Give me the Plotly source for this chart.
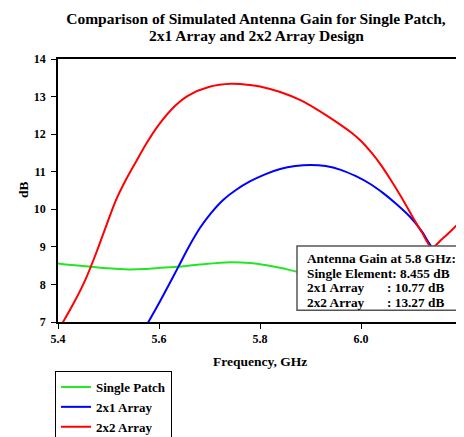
import plotly.graph_objects as go

# ---- data ----
freq_single = [5.40, 5.433, 5.466, 5.50, 5.539, 5.57, 5.598, 5.635, 5.68, 5.741, 5.78, 5.813, 5.845, 5.873, 5.92, 5.98, 6.05, 6.12, 6.20]
gain_single = [8.56, 8.51, 8.47, 8.43, 8.40, 8.41, 8.44, 8.47, 8.53, 8.59, 8.57, 8.51, 8.43, 8.34, 8.29, 8.26, 8.24, 8.23, 8.22]

freq_2x1 = [5.57, 5.579, 5.598, 5.618, 5.638, 5.657, 5.681, 5.703, 5.727, 5.753, 5.78, 5.81, 5.84, 5.87, 5.90, 5.93, 5.96, 5.99, 6.02, 6.044, 6.07, 6.097, 6.12, 6.14, 6.17, 6.20]
gain_2x1 = [6.80, 7.00, 7.45, 7.95, 8.46, 8.95, 9.50, 9.90, 10.25, 10.52, 10.74, 10.93, 11.07, 11.15, 11.18, 11.15, 11.05, 10.88, 10.66, 10.43, 10.14, 9.80, 9.42, 9.00, 8.60, 8.30]

freq_2x2 = [5.40, 5.41, 5.433, 5.455, 5.476, 5.496, 5.515, 5.535, 5.555, 5.575, 5.598, 5.631, 5.657, 5.70, 5.743, 5.78, 5.80, 5.84, 5.879, 5.91, 5.945, 5.98, 6.00, 6.02, 6.04, 6.06, 6.08, 6.10, 6.12, 6.14, 6.16, 6.18, 6.20]
gain_2x2 = [6.78, 7.00, 7.55, 8.15, 8.85, 9.58, 10.25, 10.80, 11.28, 11.75, 12.22, 12.74, 13.02, 13.26, 13.34, 13.31, 13.27, 13.12, 12.91, 12.68, 12.38, 12.05, 11.82, 11.52, 11.17, 10.76, 10.32, 9.85, 9.40, 8.98, 9.20, 9.45, 9.72]

x_ticks = [5.4, 5.6, 5.8, 6.0, 6.2]
x_tick_labels = ["5.4", "5.6", "5.8", "6.0", "6.2"]
y_ticks = [7, 8, 9, 10, 11, 12, 13, 14]

info_lines = ["Antenna Gain at 5.8 GHz:", "Single Element: 8.455 dB", "2x1 Array", "2x2 Array"]
info_values = ["", "", ": 10.77 dB", ": 13.27 dB"]

FONT = "Liberation Serif"


def px_x(p):
    # reference pixel column -> data x (plot spans 58..462 px for 5.4..6.2)
    return 5.4 + (p - 58) / 505.0


def px_y(p):
    # reference pixel row -> data y (14 at 59.3 px, 7 at 321.7 px)
    return 14 - (p - 59.3) / 37.5


def paper_x(p):
    return (p - 58) / 404.0


def paper_y(p):
    return (322 - p) / 263.0


fig = go.Figure()
fig.add_trace(go.Scatter(x=freq_single, y=gain_single, mode="lines", name="Single Patch",
                         line=dict(color="#22e622", width=2, shape="spline", smoothing=0.8)))
fig.add_trace(go.Scatter(x=freq_2x1, y=gain_2x1, mode="lines", name="2x1 Array",
                         line=dict(color="#0000ff", width=2, shape="spline", smoothing=0.8)))
fig.add_trace(go.Scatter(x=freq_2x2, y=gain_2x2, mode="lines", name="2x2 Array",
                         line=dict(color="#ff0000", width=2, shape="spline", smoothing=0.8)))

# info box
fig.add_shape(type="rect", xref="x", yref="y", x0=px_x(297), x1=px_x(458), y0=px_y(310), y1=px_y(246),
              fillcolor="white", line=dict(color="#555555", width=1.5), layer="above")
rows = [258, 273, 287, 302]
for i, txt in enumerate(info_lines):
    fig.add_annotation(x=px_x(305), y=px_y(rows[i]), xref="x", yref="y", text=txt,
                       showarrow=False, xanchor="left", yanchor="middle",
                       font=dict(family=FONT, size=13.3, color="black", weight="bold"))
for i, txt in enumerate(info_values):
    if txt:
        fig.add_annotation(x=px_x(385), y=px_y(rows[i]), xref="x", yref="y", text=txt,
                           showarrow=False, xanchor="left", yanchor="middle",
                           font=dict(family=FONT, size=13.3, color="black", weight="bold"))

# axis titles
fig.add_annotation(x=paper_x(23), y=paper_y(190), xref="paper", yref="paper", text="dB", textangle=-90,
                   showarrow=False, xanchor="center", yanchor="middle",
                   font=dict(family=FONT, size=13.5, color="black", weight="bold"))
fig.add_annotation(x=paper_x(260), y=paper_y(361), xref="paper", yref="paper",
                   text="Frequency, GHz", showarrow=False, xanchor="center", yanchor="middle",
                   font=dict(family=FONT, size=13.5, color="black", weight="bold"))

# second title line
fig.add_annotation(x=paper_x(256), y=paper_y(35), xref="paper", yref="paper",
                   text="2x1 Array and 2x2 Array Design", showarrow=False,
                   xanchor="center", yanchor="middle",
                   font=dict(family=FONT, size=15.5, color="black", weight="bold"))

fig.update_layout(
    width=456, height=429,
    margin=dict(l=50, r=2, t=51, b=115, autoexpand=False),
    paper_bgcolor="white", plot_bgcolor="white",
    font=dict(family=FONT, color="black", weight="bold"),
    title=dict(text="Comparison of Simulated Antenna Gain for Single Patch,",
               xref="container", yref="container", x=248 / 456, y=1 - 11 / 429,
               xanchor="center", yanchor="middle",
               font=dict(family=FONT, size=15.5, color="black", weight="bold")),
    showlegend=True,
    legend=dict(x=paper_x(55), y=paper_y(371), xanchor="left", yanchor="top",
                bordercolor="black", borderwidth=1, bgcolor="white",
                font=dict(family=FONT, size=13, color="black", weight="bold"),
                itemwidth=30, tracegroupgap=0, entrywidth=85, entrywidthmode="pixels"),
)
fig.update_xaxes(range=[5.4, 6.2], tickvals=x_ticks, ticktext=x_tick_labels,
                 showgrid=False, zeroline=False, showline=True, linecolor="black", linewidth=1.5,
                 mirror=True, ticks="outside", ticklen=5, tickcolor="black", tickwidth=1,
                 tickfont=dict(family=FONT, size=12, color="black", weight="bold"))
fig.update_yaxes(range=[7, 14], tickvals=y_ticks,
                 showgrid=False, zeroline=False, showline=True, linecolor="black", linewidth=1.5,
                 mirror=True, ticks="outside", ticklen=5, tickcolor="black", tickwidth=1,
                 ticklabelstandoff=3,
                 tickfont=dict(family=FONT, size=12, color="black", weight="bold"))

fig.write_html("out.html")
